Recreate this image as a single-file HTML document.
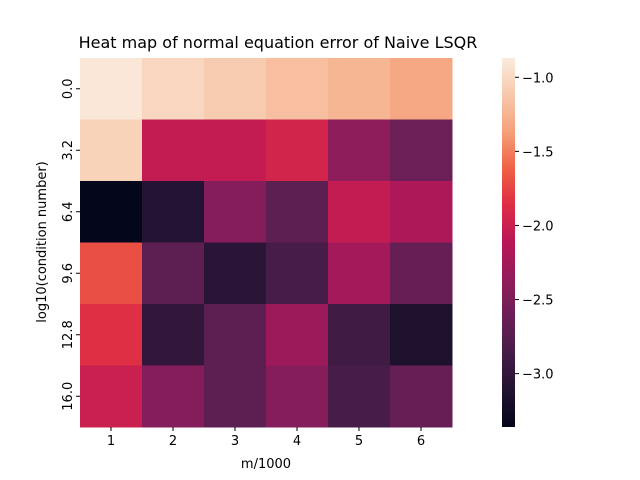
<!DOCTYPE html>
<html><head><meta charset="utf-8"><style>
html,body{margin:0;padding:0;background:#fff}
svg{display:block;font-family:"DejaVu Sans","Liberation Sans",sans-serif}
</style></head><body>
<svg id="chart" width="640" height="480" viewBox="0 0 640 480">
<defs><linearGradient id="cbgrad" x1="0" y1="1" x2="0" y2="0">
<stop offset="0" stop-color="#03051a"/><stop offset="0.1" stop-color="#221331"/><stop offset="0.2" stop-color="#451c47"/><stop offset="0.3" stop-color="#6a1f56"/><stop offset="0.4" stop-color="#921c5b"/><stop offset="0.5" stop-color="#b91657"/><stop offset="0.6" stop-color="#dd2c45"/><stop offset="0.7" stop-color="#f06043"/><stop offset="0.8" stop-color="#f5a07a"/><stop offset="0.9" stop-color="#f7c8ab"/><stop offset="1" stop-color="#faebdd"/>
</linearGradient></defs>
<text x="278" y="48" font-size="16" text-anchor="middle">Heat map of normal equation error of Naive LSQR</text>
<g id="cells"></g><g id="xt"></g><g id="yt"></g>
<text x="266" y="468" font-size="13" text-anchor="middle">m/1000</text>
<text transform="translate(46,242) rotate(-90)" font-size="13" text-anchor="middle">log10(condition number)</text>
<rect x="502" y="58" width="13" height="369" fill="url(#cbgrad)"/>
<g id="cbt"></g>
</svg>
<script>
const xLabels=["1","2","3","4","5","6"];
const yLabels=["0.0","3.2","6.4","9.6","12.8","16.0"];
const row0=[-0.9,-1.02,-1.1,-1.18,-1.24,-1.32];
const row1=[-1.05,-2.05,-2.05,-1.95,-2.4,-2.6];
const row2=[-3.35,-3.1,-2.45,-2.7,-2.05,-2.2];
const row3=[-1.7,-2.7,-3.05,-2.85,-2.25,-2.65];
const row4=[-1.85,-3.0,-2.7,-2.3,-2.9,-3.15];
const row5=[-2.0,-2.45,-2.7,-2.45,-2.85,-2.65];
const cbTicks=[-1.0,-1.5,-2.0,-2.5,-3.0];
const vmin=-3.36,vmax=-0.87;
const rows=[row0,row1,row2,row3,row4,row5];
const stops=[[3,5,26],[34,19,49],[69,28,71],[106,31,86],[146,28,91],[185,22,87],[221,44,69],[240,96,67],[245,160,122],[247,200,171],[250,235,221]];
function cmap(v){let t=Math.max(0,Math.min(1,(v-vmin)/(vmax-vmin)))*10;let i=Math.min(9,Math.floor(t)),f=t-i;const a=stops[i],b=stops[i+1];return`rgb(${a.map((c,k)=>Math.round(c+(b[k]-c)*f)).join(',')})`;}
const X0=80,X1=452,Y0=58,Y1=427;
const cw=(X1-X0)/xLabels.length,ch=(Y1-Y0)/yLabels.length;
const xs=i=>X0+i*cw, ys=j=>Y0+j*ch, cy=v=>Y0+(vmax-v)/(vmax-vmin)*(Y1-Y0);
const NS="http://www.w3.org/2000/svg";
function mk(tag,attrs,parent,txt){const e=document.createElementNS(NS,tag);for(const k in attrs)e.setAttribute(k,attrs[k]);if(txt!==undefined)e.textContent=txt;parent.appendChild(e);return e;}
const cells=document.getElementById('cells');
rows.forEach((r,j)=>r.forEach((v,i)=>{
const el=mk('rect',{x:xs(i),y:ys(j),width:cw+0.5,height:ch+0.5,fill:cmap(v)},cells);


}));
const xt=document.getElementById('xt');
xLabels.forEach((l,i)=>{const x=xs(i)+cw/2;
const tk=mk('line',{x1:x,x2:x,y1:Y1,y2:Y1+4,stroke:'#000'},xt);


const t=mk('text',{x:x,y:Y1+18,'font-size':13,'text-anchor':'middle'},xt,l);

});
const yt=document.getElementById('yt');
yLabels.forEach((l,j)=>{const y=ys(j)+ch/2;
const tk=mk('line',{x1:X0-4,x2:X0,y1:y,y2:y,stroke:'#000'},yt);


const t=mk('text',{transform:`translate(${X0-8},${y}) rotate(-90)`,'font-size':13,'text-anchor':'middle'},yt,l);

});
const cbt=document.getElementById('cbt');
cbTicks.forEach(v=>{const y=cy(v);
const tk=mk('line',{x1:515,x2:519,y1:y,y2:y,stroke:'#000'},cbt);


const t=mk('text',{x:522,y:y+5,'font-size':13},cbt,'\u2212'+Math.abs(v).toFixed(1));

});
</script>
</body></html>
